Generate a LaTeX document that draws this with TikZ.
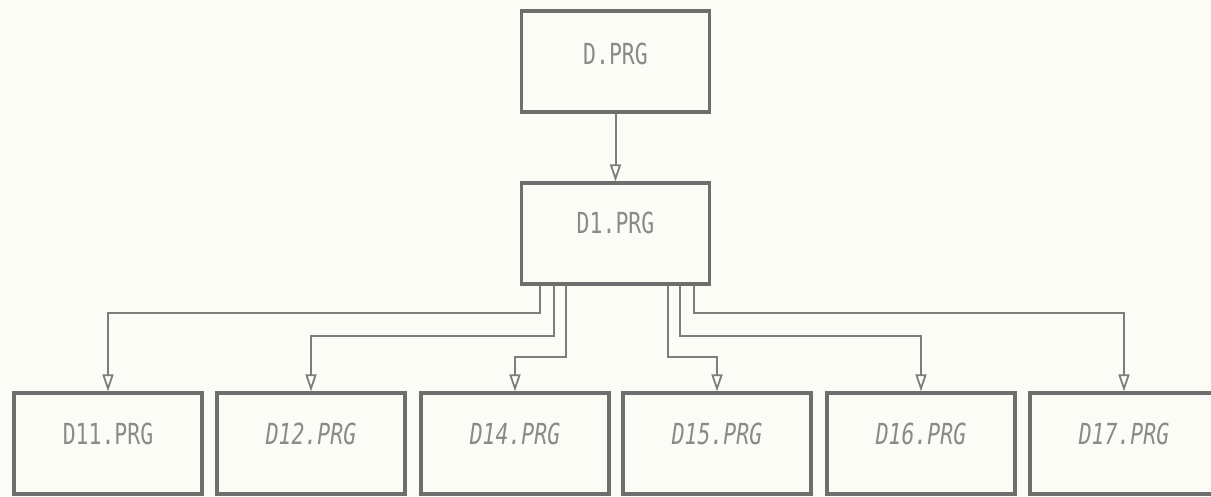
\documentclass[tikz,border=0pt]{standalone}
\usepackage{fontspec}
\newfontfamily\dotfont{DejaVu Sans Mono}
\usetikzlibrary{arrows.meta,calc}
\definecolor{paper}{HTML}{FCFCF7}
\definecolor{ink}{HTML}{6E6E6E}
\definecolor{txt}{HTML}{8A8A8A}
\tikzset{
  prgbox/.style={draw=ink, line width=3.2pt, minimum width=188pt, minimum height=101pt, inner sep=0pt, text=txt,
    font=\dotfont\fontsize{29}{29}\selectfont},
  conn/.style={draw=ink!90, line width=2pt, -{Triangle[open, length=17pt, width=11pt, line width=1.8pt]}},
}
\newcommand{\boxtxt}[2][10pt]{\raisebox{#1}[\height][\depth]{\scalebox{0.74}[1]{#2}}}
\begin{document}
\begin{tikzpicture}[x=1pt,y=-1pt]
\fill[paper] (0,0) rectangle (1211,496);
\useasboundingbox (0,0) rectangle (1211,496);
\node[prgbox] (d)  at (615.5,61.5)  {\boxtxt[8pt]{D.PRG}};
\node[prgbox] (d1) at (615.5,233.5) {\boxtxt[11pt]{D1.PRG}};
\node[prgbox] (d11) at (108,443.5) {\boxtxt{D11.PRG}};
\node[prgbox] (d12) at (311,443.5) {\boxtxt{\itshape D12.PRG}};
\node[prgbox] (d14) at (515,443.5) {\boxtxt{\itshape D14.PRG}};
\node[prgbox] (d15) at (717,443.5) {\boxtxt{\itshape D15.PRG}};
\node[prgbox] (d16) at (921,443.5) {\boxtxt{\itshape D16.PRG}};
\node[prgbox] (d17) at (1124,443.5) {\boxtxt{\itshape D17.PRG}};
\draw[conn] (d.south) -- (d1.north);
\draw[conn] ([xshift=-76pt]d1.south) |- ($(d11.north)+(0,-78)$) -- (d11.north);
\draw[conn] ([xshift=-62pt]d1.south) |- ($(d12.north)+(0,-55)$) -- (d12.north);
\draw[conn] ([xshift=-50pt]d1.south) |- ($(d14.north)+(0,-34)$) -- (d14.north);
\draw[conn] ([xshift=52pt]d1.south) |- ($(d15.north)+(0,-34)$) -- (d15.north);
\draw[conn] ([xshift=64pt]d1.south) |- ($(d16.north)+(0,-55)$) -- (d16.north);
\draw[conn] ([xshift=78pt]d1.south) |- ($(d17.north)+(0,-78)$) -- (d17.north);
\end{tikzpicture}
\end{document}
